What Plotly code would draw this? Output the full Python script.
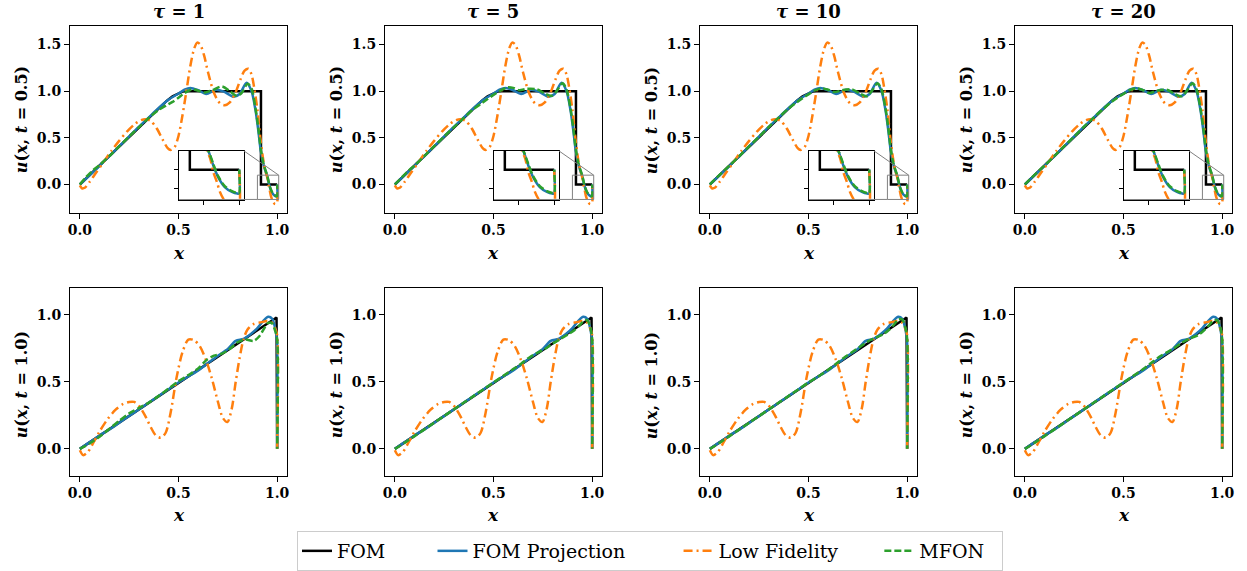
import plotly.graph_objects as go

W, H = 1247, 571
taus = [1, 5, 10, 20]
xtick_vals = [0.0, 0.5, 1.0]
xtick_text = ["0.0", "0.5", "1.0"]
ytick_top_vals = [0.0, 0.5, 1.0, 1.5]
ytick_top_text = ["0.0", "0.5", "1.0", "1.5"]
ytick_bot_vals = [0.0, 0.5, 1.0]
ytick_bot_text = ["0.0", "0.5", "1.0"]
inset_xticks = [0.94, 1.0]
inset_yticks = [-0.1, 0.0]
series_names = ["FOM", "FOM Projection", "Low Fidelity", "MFON"]

# ---------- t = 0.5 (top row) ----------
fom_top_x = [0, 0.1, 0.2, 0.3, 0.4, 0.44, 0.47, 0.5, 0.52, 0.54, 0.6, 0.7, 0.8, 0.9, 0.918, 0.918, 0.95, 1.0]
fom_top_u = [0, 0.205, 0.41, 0.615, 0.82, 0.895, 0.945, 0.98, 0.995, 1.0, 1.0, 1.0, 1.0, 1.0, 1.0, 0.0, 0.0, 0.0]

proj_top_x = [0, 0.05, 0.1, 0.15, 0.2, 0.25, 0.3, 0.35, 0.4, 0.45, 0.5, 0.53, 0.56, 0.6, 0.64, 0.69, 0.73, 0.78,
              0.81, 0.845, 0.87, 0.89, 0.905, 0.917, 0.93, 0.94, 0.949, 0.957, 0.965, 0.976, 0.988, 0.997, 1.0, 1.0]
proj_top_u = [0.0, 0.1, 0.2, 0.305, 0.41, 0.515, 0.62, 0.72, 0.82, 0.91, 0.975, 1.015, 1.035, 1.01, 0.97, 1.015,
              0.995, 0.94, 0.97, 1.09, 1.0, 0.8, 0.57, 0.36, 0.22, 0.15, 0.098, 0.022, -0.04, -0.093, -0.119, -0.128,
              -0.128, 0.0]

lf_top_x = [0, 0.01, 0.025, 0.05, 0.08, 0.12, 0.16, 0.2, 0.24, 0.28, 0.31, 0.335, 0.36, 0.39, 0.42, 0.445, 0.46,
            0.48, 0.5, 0.52, 0.54, 0.56, 0.58, 0.595, 0.61, 0.63, 0.65, 0.68, 0.71, 0.735, 0.76, 0.79, 0.815, 0.835,
            0.855, 0.87, 0.885, 0.9, 0.915, 0.93, 0.94, 0.952, 0.957, 0.963, 0.968, 0.974, 0.982, 0.99, 0.997, 1.0, 1.0]
lf_top_u = [-0.01, -0.04, -0.035, 0.03, 0.12, 0.24, 0.36, 0.47, 0.57, 0.65, 0.69, 0.7, 0.68, 0.6, 0.48, 0.39, 0.37,
            0.4, 0.52, 0.74, 1.0, 1.27, 1.46, 1.52, 1.5, 1.38, 1.2, 0.98, 0.87, 0.85, 0.88, 0.99, 1.13, 1.22,
            1.24, 1.18, 1.02, 0.8, 0.5, 0.26, 0.15, 0.058, -0.013, -0.066, -0.119, -0.158, -0.195, -0.21, -0.205, -0.2, 0.0]

mfon_top_x = [0, 0.03, 0.06, 0.1, 0.15, 0.2, 0.25, 0.3, 0.35, 0.4, 0.44, 0.47, 0.5, 0.53, 0.57, 0.6, 0.63, 0.67,
              0.72, 0.76, 0.795, 0.82, 0.85, 0.87, 0.89, 0.905, 0.917, 0.93, 0.94, 0.949, 0.957, 0.965, 0.976,
              0.988, 0.997, 1.0, 1.0]
mfon_top_u_tau1 = [0.0, 0.075, 0.14, 0.21, 0.305, 0.41, 0.515, 0.615, 0.715, 0.8, 0.85, 0.885, 0.93, 0.98, 1.02,
                   1.005, 0.985, 1.01, 1.05, 1.0, 0.95, 0.98, 1.08, 1.03, 0.82, 0.6, 0.38, 0.23, 0.16, 0.1, 0.03,
                   -0.035, -0.088, -0.115, -0.125, -0.125, 0.0]
mfon_top_u_tau5 = [0.0, 0.065, 0.13, 0.205, 0.305, 0.41, 0.515, 0.615, 0.715, 0.81, 0.87, 0.915, 0.96, 1.0, 1.04,
                   1.035, 1.01, 1.025, 1.02, 0.975, 0.95, 1.0, 1.085, 1.02, 0.82, 0.6, 0.38, 0.23, 0.16, 0.1, 0.03,
                   -0.035, -0.088, -0.115, -0.125, -0.125, 0.0]
mfon_top_u_tau10 = [0.0, 0.065, 0.125, 0.205, 0.305, 0.41, 0.515, 0.62, 0.72, 0.815, 0.88, 0.925, 0.965, 1.005,
                    1.03, 1.015, 0.99, 1.01, 1.02, 0.975, 0.945, 1.0, 1.085, 1.02, 0.82, 0.6, 0.38, 0.23, 0.16, 0.1,
                    0.03, -0.035, -0.088, -0.115, -0.125, -0.125, 0.0]
mfon_top_u_tau20 = [0.0, 0.065, 0.125, 0.205, 0.305, 0.41, 0.515, 0.62, 0.72, 0.815, 0.885, 0.93, 0.97, 1.01,
                    1.03, 1.01, 0.98, 1.005, 1.015, 0.97, 0.945, 1.0, 1.085, 1.02, 0.82, 0.6, 0.38, 0.23, 0.16, 0.1,
                    0.03, -0.035, -0.088, -0.115, -0.125, -0.125, 0.0]

# ---------- t = 1.0 (bottom row) ----------
fom_bot_x = [0, 0.25, 0.5, 0.75, 0.9, 0.99, 0.997, 1.0]
fom_bot_u = [0, 0.245, 0.49, 0.735, 0.882, 0.97, 0.98, 0.0]

proj_bot_x = [0, 0.05, 0.1, 0.15, 0.2, 0.25, 0.3, 0.35, 0.4, 0.45, 0.5, 0.55, 0.6, 0.65, 0.7, 0.75, 0.79, 0.83,
              0.87, 0.9, 0.93, 0.955, 0.975, 0.99, 0.997, 1.0, 1.0]
proj_bot_u = [0.0, 0.05, 0.1, 0.145, 0.195, 0.245, 0.295, 0.345, 0.395, 0.445, 0.495, 0.54, 0.585, 0.64, 0.695,
              0.745, 0.805, 0.82, 0.86, 0.9, 0.955, 0.985, 0.97, 0.9, 0.84, 0.8, 0.0]

lf_bot_x = [0, 0.017, 0.04, 0.07, 0.1, 0.14, 0.18, 0.22, 0.25, 0.275, 0.3, 0.33, 0.36, 0.385, 0.41, 0.435, 0.46,
            0.49, 0.52, 0.55, 0.58, 0.61, 0.64, 0.67, 0.7, 0.725, 0.748, 0.77, 0.79, 0.81, 0.83, 0.85, 0.88, 0.92,
            0.95, 0.975, 0.99, 1.0, 1.0]
lf_bot_u = [-0.01, -0.047, -0.025, 0.05, 0.13, 0.22, 0.29, 0.335, 0.35, 0.35, 0.32, 0.25, 0.16, 0.1, 0.083, 0.12,
            0.27, 0.53, 0.72, 0.815, 0.81, 0.76, 0.66, 0.52, 0.35, 0.23, 0.2, 0.3, 0.5, 0.68, 0.82, 0.89, 0.93,
            0.945, 0.953, 0.94, 0.9, 0.85, 0.0]

mfon_bot_x = [0, 0.05, 0.1, 0.15, 0.2, 0.25, 0.3, 0.35, 0.4, 0.45, 0.5, 0.55, 0.6, 0.64, 0.68, 0.72, 0.76, 0.8,
              0.84, 0.88, 0.91, 0.935, 0.955, 0.975, 0.99, 1.0, 1.0]
mfon_bot_u_tau1 = [0.0, 0.04, 0.09, 0.15, 0.21, 0.265, 0.305, 0.345, 0.395, 0.45, 0.505, 0.55, 0.6, 0.66, 0.695,
                   0.71, 0.745, 0.795, 0.815, 0.805, 0.84, 0.9, 0.94, 0.935, 0.88, 0.82, 0.0]
mfon_bot_u_tau5 = [0.0, 0.045, 0.095, 0.145, 0.195, 0.245, 0.295, 0.345, 0.395, 0.445, 0.495, 0.545, 0.595, 0.635,
                   0.68, 0.715, 0.745, 0.785, 0.82, 0.855, 0.885, 0.92, 0.95, 0.96, 0.91, 0.82, 0.0]
mfon_bot_u_tau10 = [0.0, 0.045, 0.095, 0.145, 0.195, 0.245, 0.295, 0.345, 0.395, 0.445, 0.495, 0.54, 0.59, 0.635,
                    0.68, 0.72, 0.76, 0.8, 0.83, 0.855, 0.89, 0.93, 0.965, 0.965, 0.91, 0.82, 0.0]
mfon_bot_u_tau20 = [0.0, 0.045, 0.095, 0.145, 0.195, 0.245, 0.295, 0.345, 0.395, 0.445, 0.495, 0.545, 0.595, 0.64,
                    0.685, 0.72, 0.755, 0.795, 0.825, 0.85, 0.885, 0.925, 0.955, 0.96, 0.91, 0.82, 0.0]

mfon_top = [mfon_top_u_tau1, mfon_top_u_tau5, mfon_top_u_tau10, mfon_top_u_tau20]
mfon_bot = [mfon_bot_u_tau1, mfon_bot_u_tau5, mfon_bot_u_tau10, mfon_bot_u_tau20]

# ---------- styling ----------
C_FOM, C_PROJ, C_LF, C_MFON = "black", "#1f77b4", "#ff7f0e", "#2ca02c"
LW = 2.5
SERIF = "DejaVu Serif"
TICKFONT = dict(family=SERIF, size=14, color="black", weight="bold")
NB = "\u00a0"
PADS = [NB * 7, NB * 8, NB * 6, NB * 2]   # spacing between legend entries

col_left = [70, 385, 700, 1015]
pw = 217
top_row = (26, 214)
bot_row = (290, 479)
main_xrange = [-0.05, 1.05]
top_yrange = [-0.3, 1.7]
bot_yrange = [-0.2, 1.2]
inset_xrange = [0.9, 1.008]
inset_yrange = [-0.16, 0.1]


def fx(px):
    return px / W


def fy(py):
    return 1 - py / H


fig = go.Figure()
layout = {}


def add_series(xa, ya, xs_list, show_legend):
    fx_, fu_, px_, pu_, lx_, lu_, mx_, mu_ = xs_list
    fig.add_trace(go.Scatter(x=fx_, y=fu_, mode="lines", name=series_names[0] + PADS[0], xaxis=xa, yaxis=ya,
                             line=dict(color=C_FOM, width=LW), showlegend=show_legend, legendgroup="fom"))
    fig.add_trace(go.Scatter(x=px_, y=pu_, mode="lines", name=series_names[1] + PADS[1], xaxis=xa, yaxis=ya,
                             line=dict(color=C_PROJ, width=LW, shape="spline", smoothing=0.8),
                             showlegend=show_legend, legendgroup="proj"))
    fig.add_trace(go.Scatter(x=lx_, y=lu_, mode="lines", name=series_names[2] + PADS[2], xaxis=xa, yaxis=ya,
                             line=dict(color=C_LF, width=LW, shape="spline", smoothing=0.8, dash="9px,4px,2px,4px"),
                             showlegend=show_legend, legendgroup="lf"))
    fig.add_trace(go.Scatter(x=mx_, y=mu_, mode="lines", name=series_names[3] + PADS[3], xaxis=xa, yaxis=ya,
                             line=dict(color=C_MFON, width=LW, shape="spline", smoothing=0.8, dash="7px,3px"),
                             showlegend=show_legend, legendgroup="mfon"))


def axis_common():
    return dict(showline=True, mirror=True, linecolor="black", linewidth=1, ticks="outside",
                ticklen=5, tickwidth=1, tickcolor="black", showgrid=False, zeroline=False,
                tickfont=TICKFONT, automargin=False)


annotations = []
shapes = []

for c in range(4):
    L = col_left[c]
    it, ib, ii = c + 1, c + 5, c + 9
    for idx, (r0, r1), yr, yv, yt in [(it, top_row, top_yrange, ytick_top_vals, ytick_top_text),
                                      (ib, bot_row, bot_yrange, ytick_bot_vals, ytick_bot_text)]:
        layout[f"xaxis{idx}"] = dict(axis_common(), domain=[fx(L), fx(L + pw)], range=main_xrange,
                                     anchor=f"y{idx}", tickvals=xtick_vals, ticktext=xtick_text)
        layout[f"yaxis{idx}"] = dict(axis_common(), domain=[fy(r1), fy(r0)], range=yr, anchor=f"x{idx}",
                                     tickvals=yv, ticktext=yt)
    # inset
    ix0, ix1 = L + 109, L + 174
    iy0, iy1 = 152, 201
    inset_ax = dict(showline=True, mirror=True, linecolor="black", linewidth=1.2, ticks="outside",
                    ticklen=4, tickwidth=1, tickcolor="black", showgrid=False, zeroline=False,
                    showticklabels=False, automargin=False)
    layout[f"xaxis{ii}"] = dict(inset_ax, domain=[fx(ix0), fx(ix1)], range=inset_xrange,
                                anchor=f"y{ii}", tickvals=inset_xticks)
    layout[f"yaxis{ii}"] = dict(inset_ax, domain=[fy(iy1), fy(iy0)], range=inset_yrange,
                                anchor=f"x{ii}", tickvals=inset_yticks)

    add_series(f"x{it}", f"y{it}", (fom_top_x, fom_top_u, proj_top_x, proj_top_u, lf_top_x, lf_top_u,
                                    mfon_top_x, mfon_top[c]), c == 0)
    add_series(f"x{ib}", f"y{ib}", (fom_bot_x, fom_bot_u, proj_bot_x, proj_bot_u, lf_bot_x, lf_bot_u,
                                    mfon_bot_x, mfon_bot[c]), False)
    add_series(f"x{ii}", f"y{ii}", (fom_top_x, fom_top_u, proj_top_x, proj_top_u, lf_top_x, lf_top_u,
                                    mfon_top_x, mfon_top[c]), False)

    shapes.append(dict(type="rect", xref=f"x{it}", yref=f"y{it}", x0=inset_xrange[0], x1=inset_xrange[1],
                       y0=inset_yrange[0], y1=inset_yrange[1], line=dict(color="#808080", width=1), layer="above"))

    def dpx(v):
        return L + (v - main_xrange[0]) / (main_xrange[1] - main_xrange[0]) * pw

    def dpy(v):
        return top_row[1] - (v - top_yrange[0]) / (top_yrange[1] - top_yrange[0]) * (top_row[1] - top_row[0])

    rx1, ry1 = dpx(inset_xrange[1]), dpy(inset_yrange[1])
    rx0, ry0 = dpx(inset_xrange[0]), dpy(inset_yrange[0])
    shapes.append(dict(type="line", xref="paper", yref="paper", x0=fx(ix1), y0=fy(iy0), x1=fx(rx1), y1=fy(ry1),
                       line=dict(color="#808080", width=1), layer="above"))
    shapes.append(dict(type="line", xref="paper", yref="paper", x0=fx(ix0), y0=fy(iy1), x1=fx(rx0), y1=fy(ry0),
                       line=dict(color="#808080", width=1), layer="above"))

    cx = L + pw / 2
    annotations.append(dict(text=f"<b><i>τ</i> = {taus[c]}</b>", x=fx(cx), y=fy(12), xref="paper", yref="paper",
                            showarrow=False, font=dict(family=SERIF, size=18, color="black"),
                            xanchor="center", yanchor="middle"))
    annotations.append(dict(text="<b><i>u</i>(<i>x</i>, <i>t</i> = 0.5)</b>", x=fx(L - 49), y=fy(121),
                            xref="paper", yref="paper", showarrow=False, textangle=-90,
                            font=dict(family=SERIF, size=16, color="black"), xanchor="center", yanchor="middle"))
    annotations.append(dict(text="<b><i>u</i>(<i>x</i>, <i>t</i> = 1.0)</b>", x=fx(L - 49), y=fy(388),
                            xref="paper", yref="paper", showarrow=False, textangle=-90,
                            font=dict(family=SERIF, size=16, color="black"), xanchor="center", yanchor="middle"))
    annotations.append(dict(text="<b><i>x</i></b>", x=fx(cx), y=fy(255), xref="paper", yref="paper",
                            showarrow=False, font=dict(family=SERIF, size=17, color="black"),
                            xanchor="center", yanchor="middle"))
    annotations.append(dict(text="<b><i>x</i></b>", x=fx(cx), y=fy(519), xref="paper", yref="paper",
                            showarrow=False, font=dict(family=SERIF, size=17, color="black"),
                            xanchor="center", yanchor="middle"))

fig.update_layout(
    width=W, height=H,
    margin=dict(l=0, r=0, t=0, b=0, pad=0),
    paper_bgcolor="white", plot_bgcolor="white",
    showlegend=True,
    legend=dict(orientation="h", x=fx(650), y=fy(535), xanchor="center", yanchor="top",
                font=dict(family=SERIF, size=19, color="black"),
                bordercolor="#cccccc", borderwidth=1, bgcolor="white"),
    annotations=annotations, shapes=shapes,
    **layout,
)

fig.write_html("out.html",
               config={"displayModeBar": False},
               post_script="document.body.style.margin='0px';document.body.style.padding='0px';"
                           "document.documentElement.style.overflow='hidden';")
